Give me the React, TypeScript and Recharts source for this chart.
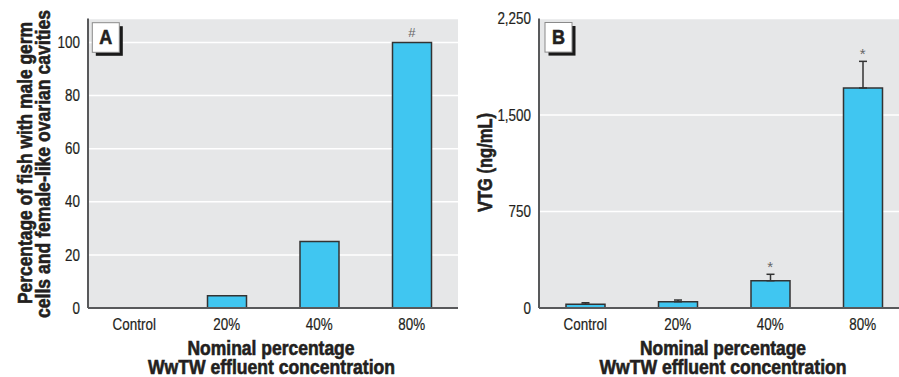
import React from "react";
import { BarChart, Bar, XAxis, YAxis, CartesianGrid, ErrorBar, ReferenceDot } from "recharts";

const categories = ["Control", "20%", "40%", "80%"];
const fishPct = [0, 4.6, 25, 100];
const fishMarks = ["", "", "", "#"];
const vtgMean = [30, 49, 212, 1710];
const vtgErr = [11, 13, 50, 207];
const vtgMarks = ["", "", "*", "*"];
const ticksA = [0, 20, 40, 60, 80, 100];
const ticksB = [0, 750, 1500, 2250];

const dataA = categories.map((c, i) => ({ cat: c, v: fishPct[i] }));
const dataB = categories.map((c, i) => ({ cat: c, v: vtgMean[i], err: [0, vtgErr[i]] }));

const FONT = "'Liberation Sans', Arial, sans-serif";
const TEXT = "#231f20";
const BAR_FILL = "#40c6f1";
const BAR_STROKE = "#333333";
const BG = "#e6e7e8";
const AXIS = "#58595b";
const SX = 0.84;

const XTick = (props: any) => {
  const { x, y, payload } = props;
  return (
    <text
      transform={`translate(${x},${y + 11.5}) scale(${SX},1)`}
      textAnchor="middle"
      fontFamily={FONT}
      fontSize={16}
      fill={TEXT}
      stroke={TEXT}
      strokeWidth={0.2}
    >
      {payload.value}
    </text>
  );
};

const makeYTick = (fmt: (v: number) => string) => (props: any) => {
  const { x, y, payload } = props;
  return (
    <text
      transform={`translate(${x},${y + 5.7}) scale(${SX},1)`}
      textAnchor="end"
      fontFamily={FONT}
      fontSize={16}
      fill={TEXT}
      stroke={TEXT}
      strokeWidth={0.2}
    >
      {fmt(payload.value)}
    </text>
  );
};

const markLabel = (mark: string, off: number, size: number) => (props: any) => {
  const vb = props.viewBox || {};
  const cx = vb.x + (vb.width || 0) / 2;
  const cy = vb.y + (vb.height || 0) / 2;
  return (
    <text x={cx} y={cy - off} textAnchor="middle" fontFamily={FONT} fontSize={size} fill="#666">
      {mark}
    </text>
  );
};

function PanelA() {
  return (
    <BarChart
      width={460}
      height={377}
      data={dataA}
      margin={{ top: 18.5, right: 2, left: 48, bottom: 39 }}
      barSize={39}
    >
      <CartesianGrid fill={BG} vertical={false} stroke="#ffffff" strokeWidth={1.5} />
      <XAxis
        dataKey="cat"
        height={30}
        tickLine={false}
        tickSize={0}
        tickMargin={10}
        tick={<XTick />}
        axisLine={{ stroke: AXIS, strokeWidth: 2 }}
        interval={0}
      />
      <YAxis
        width={40}
        domain={[0, 109]}
        ticks={ticksA}
        tickLine={false}
        tickSize={0}
        tickMargin={8}
        tick={makeYTick((v) => String(v))}
        axisLine={{ stroke: AXIS, strokeWidth: 2 }}
        allowDataOverflow
      />
      <Bar dataKey="v" fill={BAR_FILL} stroke={BAR_STROKE} strokeWidth={1.5} isAnimationActive={false} />
      {categories.map((c, i) =>
        fishMarks[i] ? (
          <ReferenceDot
            key={c}
            x={c}
            y={fishPct[i]}
            r={1}
            fill="none"
            stroke="none"
            ifOverflow="visible"
            label={markLabel(fishMarks[i], 5.3, 13)}
          />
        ) : null
      )}
    </BarChart>
  );
}

function PanelB() {
  return (
    <BarChart
      width={460}
      height={377}
      data={dataB}
      margin={{ top: 18.5, right: 1, left: 49, bottom: 39 }}
      barSize={39}
    >
      <CartesianGrid fill={BG} vertical={false} stroke="#ffffff" strokeWidth={1.5} />
      <XAxis
        dataKey="cat"
        height={30}
        tickLine={false}
        tickSize={0}
        tickMargin={10}
        tick={<XTick />}
        axisLine={{ stroke: AXIS, strokeWidth: 2 }}
        interval={0}
      />
      <YAxis
        width={40}
        domain={[0, 2250]}
        ticks={ticksB}
        tickLine={false}
        tickSize={0}
        tickMargin={8}
        tick={makeYTick((v) => v.toLocaleString("en-US"))}
        axisLine={{ stroke: AXIS, strokeWidth: 2 }}
      />
      <Bar dataKey="v" fill={BAR_FILL} stroke={BAR_STROKE} strokeWidth={1.5} isAnimationActive={false}>
        <ErrorBar dataKey="err" direction="y" width={4} stroke={BAR_STROKE} strokeWidth={1.5} />
      </Bar>
      {categories.map((c, i) =>
        vtgMarks[i] ? (
          <ReferenceDot
            key={c}
            x={c}
            y={vtgMean[i] + vtgErr[i]}
            r={1}
            fill="none"
            stroke="none"
            ifOverflow="visible"
            label={markLabel(vtgMarks[i], 2.5, 15)}
          />
        ) : null
      )}
    </BarChart>
  );
}

function PanelTag({ x, y, letter }: { x: number; y: number; letter: string }) {
  return (
    <g>
      <rect x={x + 3.5} y={y + 3.5} width={27} height={29.6} fill="#1a1a1a" />
      <rect x={x} y={y} width={27} height={29.6} fill="#ffffff" stroke="#8a8a8a" strokeWidth={1} />
      <text
        transform={`translate(${x + 13.5},${y + 21.5}) scale(0.9,1)`}
        textAnchor="middle"
        fontFamily={FONT}
        fontWeight="bold"
        fontSize={20}
        fill={TEXT}
        stroke={TEXT}
        strokeWidth={0.6}
      >
        {letter}
      </text>
    </g>
  );
}

function Title({ x, y, len, rotate, children }: { x: number; y: number; len: number; rotate?: boolean; children: string }) {
  return (
    <text
      transform={`translate(${x},${y})${rotate ? " rotate(-90)" : ""}`}
      textAnchor="middle"
      fontFamily={FONT}
      fontWeight="bold"
      fontSize={19.5}
      fill={TEXT}
      stroke={TEXT}
      strokeWidth={0.6}
      textLength={len}
      lengthAdjust="spacingAndGlyphs"
    >
      {children}
    </text>
  );
}

export default function App() {
  return (
    <div style={{ position: "absolute", left: 0, top: 0, width: 899, height: 377, overflow: "hidden", background: "#ffffff" }}>
      <div style={{ position: "absolute", left: 0, top: 0 }}>
        <PanelA />
      </div>
      <div style={{ position: "absolute", left: 450, top: 0 }}>
        <PanelB />
      </div>
      <svg width={899} height={377} style={{ position: "absolute", left: 0, top: 0, pointerEvents: "none" }}>
        <PanelTag x={92.3} y={22.7} letter="A" />
        <PanelTag x={545} y={22.5} letter="B" />
        <Title x={32} y={163} len={282} rotate>Percentage of fish with male germ</Title>
        <Title x={50} y={164} len={308} rotate>cells and female-like ovarian cavities</Title>
        <Title x={492} y={162.5} len={99} rotate>VTG (ng/mL)</Title>
        <Title x={271} y={355} len={167}>Nominal percentage</Title>
        <Title x={271.5} y={373.5} len={247}>WwTW effluent concentration</Title>
        <Title x={723} y={355} len={166}>Nominal percentage</Title>
        <Title x={723} y={373.5} len={247}>WwTW effluent concentration</Title>
      </svg>
    </div>
  );
}
